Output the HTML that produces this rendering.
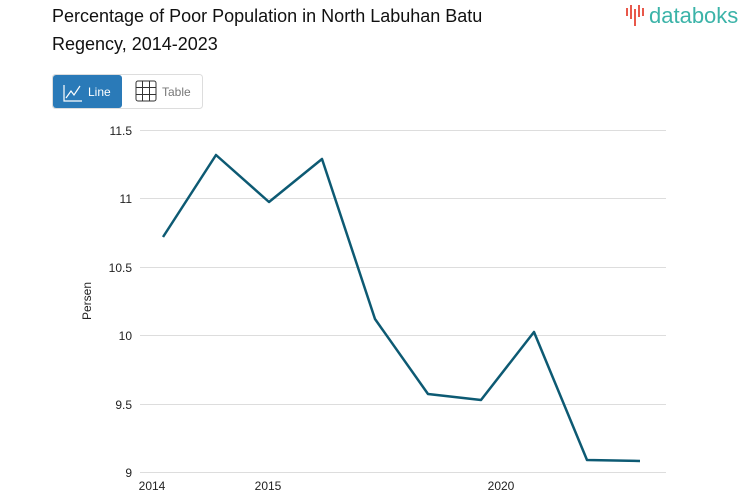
<!DOCTYPE html>
<html><head><style>
body{margin:0;width:753px;height:498px;background:#fff;font-family:"Liberation Sans",sans-serif;overflow:hidden;position:relative}
.t{position:absolute;left:52px;top:2px;font-size:18px;line-height:28px;color:#111}
</style></head><body>
<div class="t">Percentage of Poor Population in North Labuhan Batu<br>Regency, 2014-2023</div>
<svg width="753" height="498" style="position:absolute;left:0;top:0">
<g>
<rect x="626" y="8" width="2" height="8" fill="#e8584a"/>
<rect x="630" y="5" width="2" height="14" fill="#e8584a"/>
<rect x="634" y="9" width="2" height="17" fill="#e8584a"/>
<rect x="638" y="5" width="2" height="12" fill="#e8584a"/>
<rect x="642" y="8" width="2" height="8" fill="#e8584a"/>
<text x="649" y="23" font-size="22" fill="#3bb3a8" font-family="Liberation Sans">databoks</text>
</g>
<rect x="52.5" y="74.5" width="150" height="34" rx="3" fill="#fff" stroke="#ddd"/>
<rect x="53" y="75" width="69" height="33" rx="3" fill="#2a7ab8"/>
<polyline points="64,85 64,101 82,101" fill="none" stroke="#fff" stroke-width="1.2"/>
<polyline points="66,98 71,91 74,95 80,86" fill="none" stroke="#fff" stroke-width="1.2"/>
<text x="88" y="96" font-size="12" fill="#fff">Line</text>
<g stroke="#333" fill="none" stroke-width="1"><rect x="136" y="81" width="20" height="20" rx="2"/><line x1="142.5" y1="81" x2="142.5" y2="101"/><line x1="149.5" y1="81" x2="149.5" y2="101"/><line x1="136" y1="87.5" x2="156" y2="87.5"/><line x1="136" y1="94.5" x2="156" y2="94.5"/></g>
<text x="162" y="96" font-size="12" fill="#777">Table</text>
<g stroke="#ddd" stroke-width="1">
<line x1="140" x2="666" y1="130.5" y2="130.5"/>
<line x1="140" x2="666" y1="198.5" y2="198.5"/>
<line x1="140" x2="666" y1="267.5" y2="267.5"/>
<line x1="140" x2="666" y1="335.5" y2="335.5"/>
<line x1="140" x2="666" y1="404.5" y2="404.5"/>
<line x1="140" x2="666" y1="472.5" y2="472.5"/>
</g>
<g font-size="12" fill="#222" text-anchor="end">
<text x="132" y="135">11.5</text><text x="132" y="203">11</text><text x="132" y="272">10.5</text>
<text x="132" y="340">10</text><text x="132" y="409">9.5</text><text x="132" y="477">9</text>
</g>
<text transform="translate(91,301) rotate(-90)" font-size="12" fill="#222" text-anchor="middle">Persen</text>
<g font-size="12" fill="#222" text-anchor="middle">
<text x="152" y="490">2014</text><text x="268" y="490">2015</text><text x="501" y="490">2020</text>
</g>
<polyline fill="none" stroke="#0d5a73" stroke-width="2.5" stroke-linejoin="round" points="163,237 216,155 269,202 322,159 375,319 428,394 481,400 534,332 587,460 640,461"/>
</svg>
</body></html>
